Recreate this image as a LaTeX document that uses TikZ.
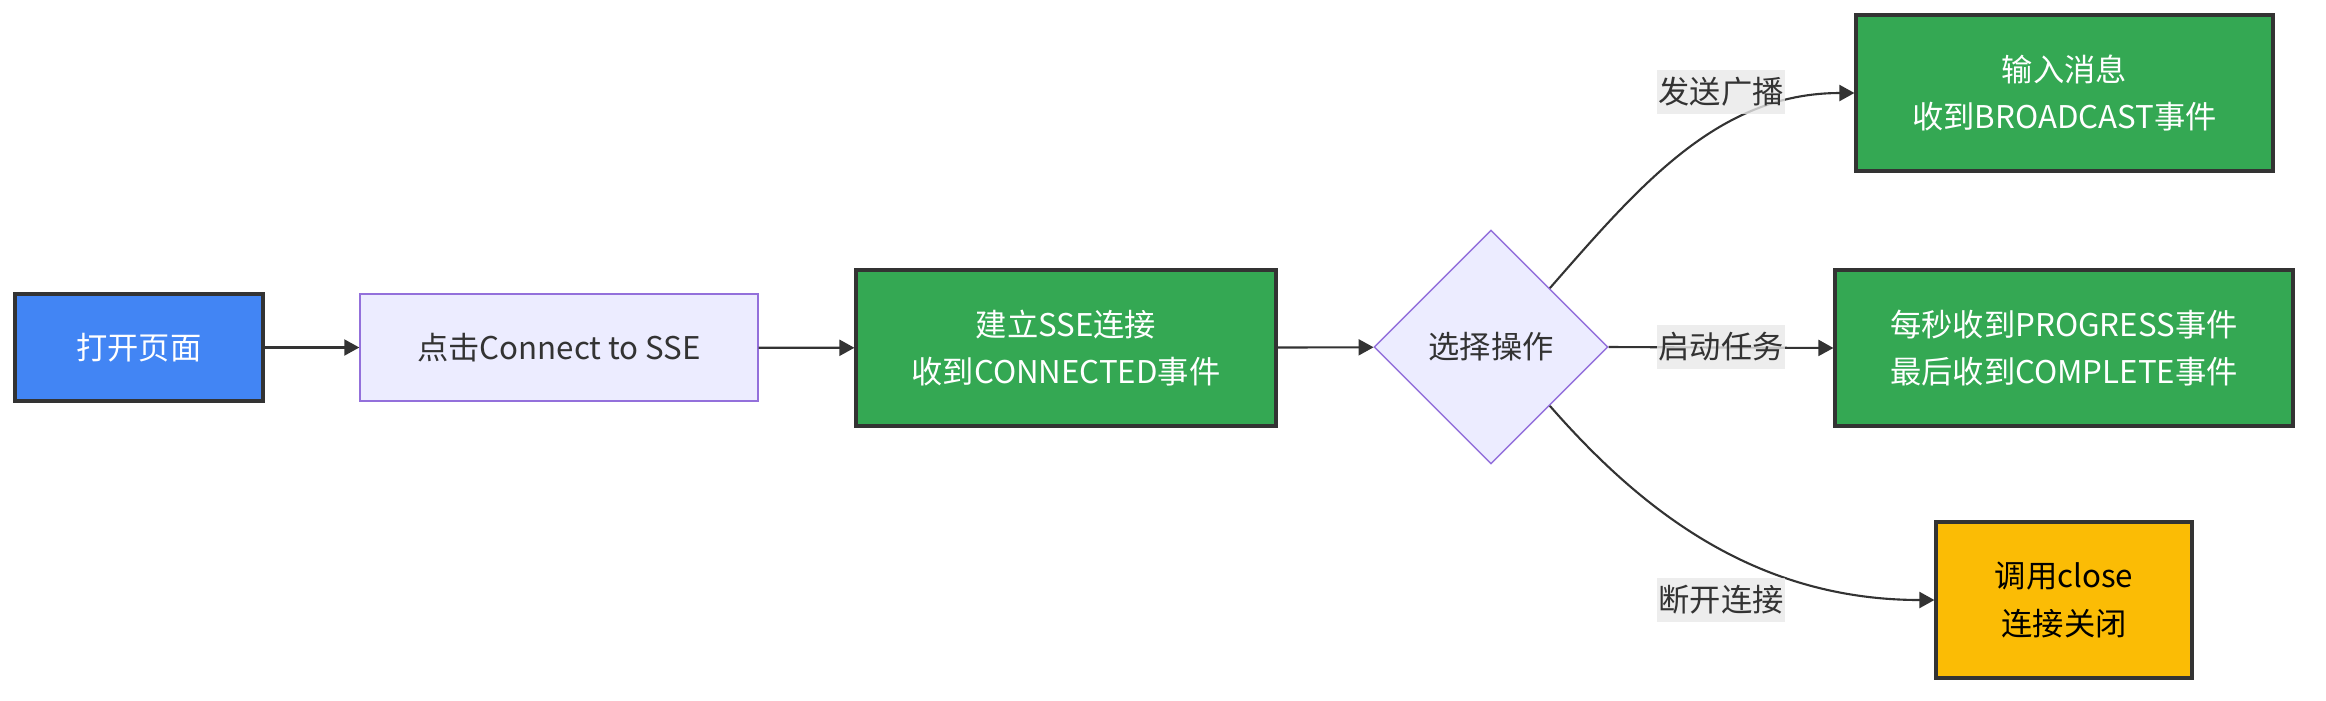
\documentclass[tikz,border=0pt]{standalone}
\usepackage{fontspec}
\setmainfont{Noto Sans CJK SC}
\usepackage{xcolor}
\definecolor{flowblue}{HTML}{4285F4}
\definecolor{flowgreen}{HTML}{34A853}
\definecolor{flowyellow}{HTML}{FBBC05}
\definecolor{flowdark}{HTML}{333333}
\definecolor{flowlilac}{HTML}{ECECFF}
\definecolor{flowpurple}{HTML}{9370DB}
\definecolor{flowlabel}{HTML}{E8E8E8}
\usetikzlibrary{
  arrows.meta,
  shapes.geometric
}

\begin{document}
\begin{tikzpicture}[
  font=\fontsize{8.9}{13.5}\selectfont,
  box/.style={draw=flowdark, line width=0.9pt, align=center, inner sep=0pt},
  bluebox/.style={box, fill=flowblue, text=white},
  greenbox/.style={box, fill=flowgreen, text=white, minimum height=1.56cm},
  yellowbox/.style={box, fill=flowyellow, text=black, minimum height=1.56cm},
  lilacbox/.style={draw=flowpurple, line width=0.4pt, fill=flowlilac,
    text=flowdark, align=center, inner sep=0pt},
  flow/.style={draw=flowdark, line width=0.6pt,
    -{Triangle[length=1.5mm, width=1.6mm]}},
  edgelabel/.style={fill=flowlabel, fill opacity=0.8, text opacity=1,
    text=flowdark, inner sep=0pt, minimum width=1.28cm, minimum height=0.44cm}
]

  %% Canvas
  \useasboundingbox (0,0) rectangle (23.26,7.00);

  %% Main chain
  \node[bluebox, minimum width=2.48cm, minimum height=1.07cm]
    (open) at (1.39,3.525) {打开页面};
  \node[lilacbox, minimum width=3.98cm, minimum height=1.07cm]
    (click) at (5.59,3.525) {点击Connect to SSE};
  \node[greenbox, minimum width=4.20cm]
    (connected) at (10.66,3.52) {建立SSE连接\\收到CONNECTED事件};
  \node[lilacbox, diamond, aspect=1, minimum width=2.34cm, minimum height=2.34cm]
    (choose) at (14.91,3.53) {选择操作};

  %% Outcomes
  \node[greenbox, minimum width=4.17cm]
    (broadcast) at (20.645,6.07) {输入消息\\收到BROADCAST事件};
  \node[greenbox, minimum width=4.58cm]
    (progress) at (20.64,3.52) {每秒收到PROGRESS事件\\最后收到COMPLETE事件};
  \node[yellowbox, minimum width=2.56cm]
    (closed) at (20.64,1.00) {调用close\\连接关闭};

  %% Connectors
  \draw[flow] (open) -- (click);
  \draw[flow] (click) -- (connected);
  \draw[flow] (connected) -- (choose);
  \draw[flow] (choose.north east)
    .. controls +(0.905,1.035) and +(-1.36,0) .. (broadcast.west);
  \draw[flow] (choose.east) -- (progress.west);
  \draw[flow] (choose.south east)
    .. controls +(0.905,-1.035) and +(-1.8,0) .. (closed.west);

  %% Edge labels
  \node[edgelabel] (sendlbl) at (17.21,6.08) {发送广播};
  \node[edgelabel] (startlbl) at (17.21,3.53) {启动任务};
  \node[edgelabel] (closelbl) at (17.21,1.00) {断开连接};

\end{tikzpicture}
\end{document}
